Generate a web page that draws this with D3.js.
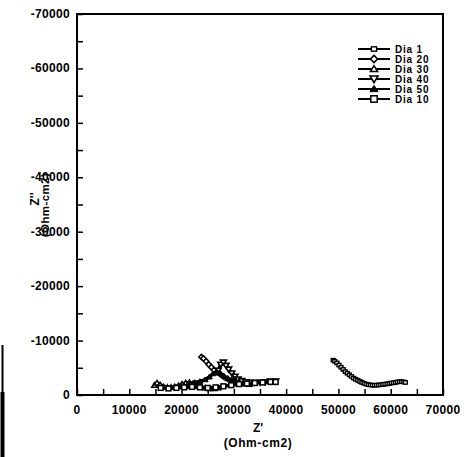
<!DOCTYPE html>
<html>
<head>
<meta charset="utf-8">
<script src="https://cdn.jsdelivr.net/npm/d3@7/dist/d3.min.js"></script>
<style>
  html, body { margin: 0; padding: 0; background: #fff; }
  svg { display: block; }
  text { font-family: "Liberation Sans", Arial, sans-serif; font-weight: bold; fill: #000; }
</style>
</head>
<body>
<svg id="chart" width="464" height="457"></svg>
<script>
// Impedance data: Z' (real) vs Z'' (imaginary), Ohm-cm2
const seriesNames = ["Dia 1", "Dia 20", "Dia 30", "Dia 40", "Dia 50", "Dia 10"];
const markerKinds = ["square", "diamond", "triangleUp", "triangleDown", "triangleFilled", "squareBig"];

const dia1X  = [49000, 49300, 49700, 50100, 50500, 50900, 51300, 51700, 52100, 52500, 52900, 53300, 53700, 54100, 54500, 54900, 55300, 55700, 56100, 56500, 56900, 57300, 57700, 58100, 58500, 58900, 59300, 59700, 60100, 60500, 60900, 61300, 61700, 62100, 62500, 62800];
const dia1Y  = [-6400, -6200, -5900, -5500, -5100, -4700, -4300, -4000, -3700, -3400, -3100, -2900, -2700, -2500, -2300, -2150, -2000, -1900, -1850, -1800, -1800, -1800, -1850, -1900, -1950, -2000, -2050, -2100, -2200, -2250, -2300, -2400, -2450, -2450, -2400, -2300];

const dia20X = [23800, 24200, 24700, 25200, 25700, 26200, 26800, 27400, 28000, 28800, 29600, 30400];
const dia20Y = [-7000, -6700, -6200, -5600, -5100, -4600, -4200, -3800, -3400, -3000, -2700, -2500];

const dia30X = [14800, 15300, 15900, 16600, 17300, 18000, 18700, 19400, 20100, 20800, 21500, 22200, 23000, 23800, 24600, 25400, 26200, 27000];
const dia30Y = [-1800, -2200, -1900, -1500, -1400, -1400, -1500, -1700, -2000, -2200, -2300, -2100, -1800, -1500, -1300, -1200, -1200, -1300];

const dia40X = [27000, 27500, 28000, 28500, 29000, 29600, 30200, 30800, 31500, 32300, 33100, 34000, 35000, 36000, 37000, 38000];
const dia40Y = [-4500, -5600, -6000, -5400, -4700, -4000, -3400, -2900, -2600, -2400, -2300, -2300, -2300, -2400, -2500, -2500];

const dia50X = [20500, 21500, 22500, 23500, 24500, 25300, 26000, 26700, 27400, 28100, 28800, 29600, 30400, 31200, 32000, 33000];
const dia50Y = [-1600, -2000, -2300, -2500, -2800, -3300, -3900, -4300, -4000, -3500, -3000, -2600, -2300, -2100, -2000, -1900];

const dia10X = [16000, 17500, 19000, 20500, 22000, 23500, 25000, 26500, 28000, 29500, 31000, 32500, 34000, 35500, 37000, 38000];
const dia10Y = [-1300, -1200, -1300, -1400, -1500, -1400, -1300, -1400, -1600, -1800, -2000, -2100, -2200, -2300, -2400, -2400];

const xTicks = [0, 10000, 20000, 30000, 40000, 50000, 60000, 70000];
const yTicks = [0, -10000, -20000, -30000, -40000, -50000, -60000, -70000];

const allX = [dia1X, dia20X, dia30X, dia40X, dia50X, dia10X];
const allY = [dia1Y, dia20Y, dia30Y, dia40Y, dia50Y, dia10Y];

const svg = d3.select("#chart");
const plot = { left: 77, right: 443, top: 14, bottom: 395 };

const x = d3.scaleLinear().domain([0, 70000]).range([plot.left, plot.right]);
const y = d3.scaleLinear().domain([0, -70000]).range([plot.bottom, plot.top]);

// Rule down the left margin
svg.append("rect").attr("x", 1.5).attr("y", 345).attr("width", 2).attr("height", 112).attr("fill", "#000");
svg.append("rect").attr("x", 0.5).attr("y", 392).attr("width", 4).attr("height", 65).attr("fill", "#000");

// Axes with inward ticks every 5000
const xAxis = d3.axisBottom(x).tickValues(d3.range(0, 70001, 5000)).tickSize(-6).tickFormat("");
const yAxis = d3.axisLeft(y).tickValues(d3.range(0, -70001, -5000)).tickSize(-6).tickFormat("");

svg.append("g").attr("transform", `translate(0,${plot.bottom})`).call(xAxis)
  .call(g => g.select(".domain").remove())
  .selectAll("line").attr("stroke", "#000").attr("stroke-width", 1.5);
svg.append("g").attr("transform", `translate(${plot.left},0)`).call(yAxis)
  .call(g => g.select(".domain").remove())
  .selectAll("line").attr("stroke", "#000").attr("stroke-width", 1.5);

// Frame
svg.append("rect")
  .attr("x", plot.left).attr("y", plot.top)
  .attr("width", plot.right - plot.left).attr("height", plot.bottom - plot.top)
  .attr("fill", "none").attr("stroke", "#000").attr("stroke-width", 2);

// Tick labels
svg.append("g").selectAll("text").data(xTicks).join("text")
  .attr("x", d => x(d)).attr("y", 414)
  .attr("text-anchor", "middle").attr("font-size", 12).attr("letter-spacing", 0.3)
  .text(d => String(d));
svg.append("g").selectAll("text").data(yTicks).join("text")
  .attr("x", 70).attr("y", d => y(d) + 4)
  .attr("text-anchor", "end").attr("font-size", 12).attr("letter-spacing", 0.3)
  .text(d => String(d));

// Axis titles
svg.append("text").attr("x", 258).attr("y", 432).attr("text-anchor", "middle").attr("font-size", 12).text("Z'");
svg.append("text").attr("x", 258).attr("y", 447).attr("text-anchor", "middle").attr("font-size", 12).attr("letter-spacing", 0.6).text("(Ohm-cm2)");
svg.append("text").attr("transform", "translate(39,199) rotate(-90)").attr("text-anchor", "middle").attr("font-size", 12).text("Z''");
svg.append("text").attr("transform", "translate(49,205) rotate(-90)").attr("text-anchor", "middle").attr("font-size", 11.5).attr("letter-spacing", 0.4).text("(Ohm-cm2)");

// Marker shapes; k scales the glyph
function drawMarker(g, kind, cx, cy, k = 1) {
  if (kind === "square") {
    g.append("rect").attr("x", cx - 2.6 * k).attr("y", cy - 2.2 * k).attr("width", 5.2 * k).attr("height", 4.4 * k)
      .attr("fill", "#fff").attr("stroke", "#000").attr("stroke-width", 1.4);
  } else if (kind === "squareBig") {
    g.append("rect").attr("x", cx - 3.2 * k).attr("y", cy - 3.2 * k).attr("width", 6.4 * k).attr("height", 6.4 * k)
      .attr("fill", "#fff").attr("stroke", "#000").attr("stroke-width", 1.5);
  } else if (kind === "diamond") {
    g.append("path").attr("d", `M${cx},${cy - 3.6 * k}L${cx + 3.6 * k},${cy}L${cx},${cy + 3.6 * k}L${cx - 3.6 * k},${cy}Z`)
      .attr("fill", "#fff").attr("stroke", "#000").attr("stroke-width", 1.5);
  } else if (kind === "triangleUp") {
    g.append("path").attr("d", `M${cx},${cy - 3.4 * k}L${cx + 3.6 * k},${cy + 2.6 * k}L${cx - 3.6 * k},${cy + 2.6 * k}Z`)
      .attr("fill", "#fff").attr("stroke", "#000").attr("stroke-width", 1.5);
  } else if (kind === "triangleDown") {
    g.append("path").attr("d", `M${cx - 4 * k},${cy - 3 * k}L${cx + 4 * k},${cy - 3 * k}L${cx},${cy + 3.6 * k}Z`)
      .attr("fill", "#fff").attr("stroke", "#000").attr("stroke-width", 1.6);
  } else if (kind === "triangleFilled") {
    g.append("path").attr("d", `M${cx},${cy - 3.6 * k}L${cx + 4 * k},${cy + 2.6 * k}L${cx - 4 * k},${cy + 2.6 * k}Z`)
      .attr("fill", "#000").attr("stroke", "#000").attr("stroke-width", 1);
  }
}

// Series lines and markers
const line = d3.line().x(d => x(d[0])).y(d => y(d[1]));
seriesNames.forEach((name, i) => {
  const pts = allX[i].map((v, j) => [v, allY[i][j]]);
  const g = svg.append("g");
  g.append("path").datum(pts).attr("d", line)
    .attr("fill", "none").attr("stroke", "#000").attr("stroke-width", 3.6)
    .attr("stroke-linejoin", "round");
  pts.forEach(p => drawMarker(g, markerKinds[i], x(p[0]), y(p[1]), 0.75));
});

// Legend
const legend = svg.append("g");
seriesNames.forEach((name, i) => {
  const ly = 49 + i * 10;
  legend.append("line").attr("x1", 358).attr("x2", 390).attr("y1", ly).attr("y2", ly)
    .attr("stroke", "#000").attr("stroke-width", 2);
  drawMarker(legend, markerKinds[i], 374, ly);
  legend.append("text").attr("x", 395).attr("y", ly + 3.5).attr("font-size", 10).attr("letter-spacing", 0.8).text(name);
});
</script>
</body>
</html>
